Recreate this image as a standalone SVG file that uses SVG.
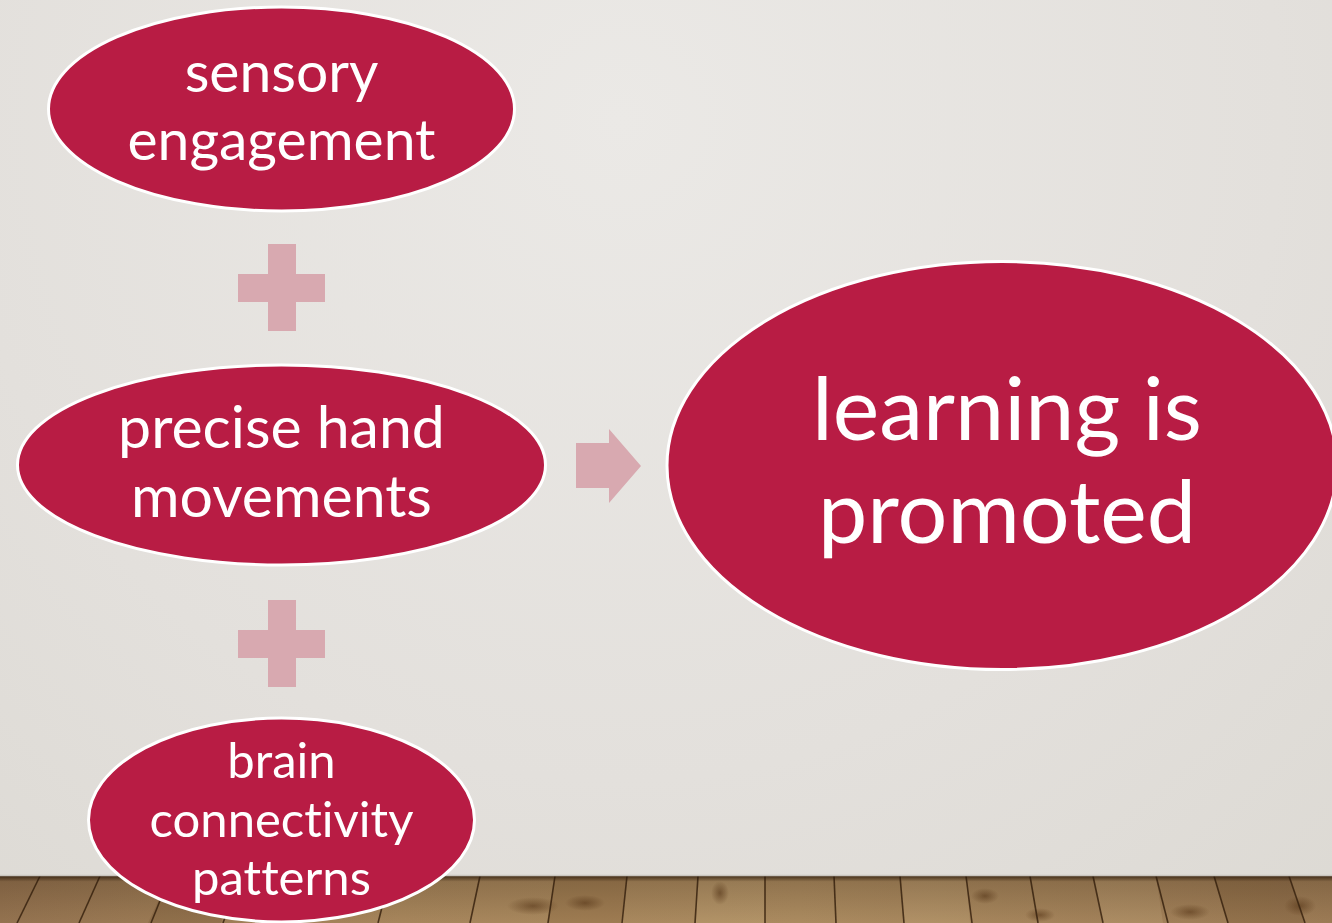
<svg xmlns="http://www.w3.org/2000/svg" width="1332" height="923" viewBox="0 0 1332 923">
  <style>
    .node ellipse { fill: #b81c44; stroke: #ffffff; stroke-width: 3; }
    .label { fill: #ffffff; font-family: Lato, "Open Sans", "Liberation Sans", sans-serif; text-anchor: middle; font-variant-ligatures: none; }
    .sym { fill: #d8a9b0; }
    .seam { stroke: #3a2410; stroke-width: 1.6; opacity: 0.85; }
  </style>
  <defs>
    <radialGradient id="wall" cx="620" cy="120" r="1100" gradientUnits="userSpaceOnUse">
      <stop offset="0" stop-color="#ebe9e6"/>
      <stop offset="0.6" stop-color="#e3e0dc"/>
      <stop offset="1" stop-color="#dcd9d3"/>
    </radialGradient>
    <linearGradient id="wood" x1="0" y1="0" x2="1" y2="0">
      <stop offset="0" stop-color="#947350"/>
      <stop offset="0.3" stop-color="#a7865c"/>
      <stop offset="0.6" stop-color="#ab8b60"/>
      <stop offset="1" stop-color="#9c7b55"/>
    </linearGradient>
    <linearGradient id="floorShade" x1="0" y1="0" x2="0" y2="1">
      <stop offset="0" stop-color="#2a1808" stop-opacity="0.8"/>
      <stop offset="0.12" stop-color="#2a1808" stop-opacity="0.2"/>
      <stop offset="1" stop-color="#2a1808" stop-opacity="0"/>
    </linearGradient>
    <radialGradient id="knot">
      <stop offset="0" stop-color="#5a3818" stop-opacity="0.6"/>
      <stop offset="1" stop-color="#5a3818" stop-opacity="0"/>
    </radialGradient>
  </defs>

  <!-- wall and wooden floor -->
  <rect x="0" y="0" width="1332" height="877" fill="url(#wall)"/>
  <rect x="0" y="876" width="1332" height="47" fill="url(#wood)"/>
  <!-- plank tone variation -->
  <g opacity="0.22">
    <polygon points="170,876 240,876 221,923 148,923" fill="#6b4a28"/>
    <polygon points="555,876 627,876 621,923 547,923" fill="#7a532c"/>
    <polygon points="900,876 966,876 970,923 904,923" fill="#d2b487"/>
    <polygon points="1093,876 1156,876 1163,923 1102,923" fill="#d2b487"/>
    <polygon points="1214,876 1289,876 1304,923 1228,923" fill="#6b4a28"/>
    <polygon points="698,876 765,876 765,923 696,923" fill="#d2b487"/>
  </g>
  <!-- knots and stains in the grain -->
  <g fill="url(#knot)">
    <ellipse cx="533" cy="906" rx="26" ry="9"/>
    <ellipse cx="585" cy="903" rx="20" ry="8"/>
    <ellipse cx="720" cy="893" rx="9" ry="12"/>
    <ellipse cx="985" cy="896" rx="14" ry="8"/>
    <ellipse cx="1040" cy="915" rx="15" ry="7"/>
    <ellipse cx="1190" cy="912" rx="20" ry="8"/>
    <ellipse cx="1300" cy="906" rx="16" ry="10"/>
  </g>
  <g class="seam">
    <line x1="40" y1="876" x2="17" y2="923"/>
    <line x1="100" y1="876" x2="79" y2="923"/>
    <line x1="170" y1="876" x2="151" y2="923"/>
    <line x1="240" y1="876" x2="223" y2="923"/>
    <line x1="310" y1="876" x2="295" y2="923"/>
    <line x1="390" y1="876" x2="378" y2="923"/>
    <line x1="480" y1="876" x2="470" y2="923"/>
    <line x1="555" y1="876" x2="548" y2="923"/>
    <line x1="627" y1="876" x2="622" y2="923"/>
    <line x1="698" y1="876" x2="695" y2="923"/>
    <line x1="765" y1="876" x2="765" y2="923"/>
    <line x1="834" y1="876" x2="836" y2="923"/>
    <line x1="900" y1="876" x2="904" y2="923"/>
    <line x1="966" y1="876" x2="972" y2="923"/>
    <line x1="1030" y1="876" x2="1038" y2="923"/>
    <line x1="1093" y1="876" x2="1103" y2="923"/>
    <line x1="1156" y1="876" x2="1168" y2="923"/>
    <line x1="1214" y1="876" x2="1228" y2="923"/>
    <line x1="1289" y1="876" x2="1305" y2="923"/>
  </g>
  <rect x="0" y="876" width="1332" height="47" fill="url(#floorShade)"/>
  <line x1="0" y1="875.5" x2="1332" y2="875.5" stroke="#c9c5bf" stroke-width="1.5"/>

  <!-- plus signs and arrow between the ovals -->
  <g id="connectors">
    <path class="sym" d="M268,244 H296 V274 H325 V302 H296 V331 H268 V302 H238 V274 H268 Z"/>
    <path class="sym" d="M268,600 H296 V630 H325 V658 H296 V687 H268 V658 H238 V630 H268 Z"/>
    <path class="sym" d="M576,443 H609 V429 L641,466 L609,503 V488 H576 Z"/>
  </g>

  <g id="node-sensory" class="node">
    <ellipse cx="281.5" cy="109" rx="233" ry="102"/>
    <text class="label" x="281.5" y="92" font-size="57">sensory</text>
    <text class="label" x="281.5" y="160" font-size="57">engagement</text>
  </g>

  <g id="node-hand" class="node">
    <ellipse cx="281.5" cy="465" rx="264" ry="100"/>
    <text class="label" x="281.5" y="448" font-size="59">precise hand</text>
    <text class="label" x="281.5" y="517" font-size="59">movements</text>
  </g>

  <g id="node-brain" class="node">
    <ellipse cx="281.5" cy="820" rx="193" ry="102"/>
    <text class="label" x="281.5" y="778" font-size="49">brain</text>
    <text class="label" x="281.5" y="837" font-size="49">connectivity</text>
    <text class="label" x="281.5" y="895" font-size="49">patterns</text>
  </g>

  <g id="node-learning" class="node">
    <ellipse cx="1002" cy="465.5" rx="335" ry="204"/>
    <text class="label" x="1007" y="440" font-size="88">learning is</text>
    <text class="label" x="1007" y="543" font-size="88">promoted</text>
  </g>
</svg>
